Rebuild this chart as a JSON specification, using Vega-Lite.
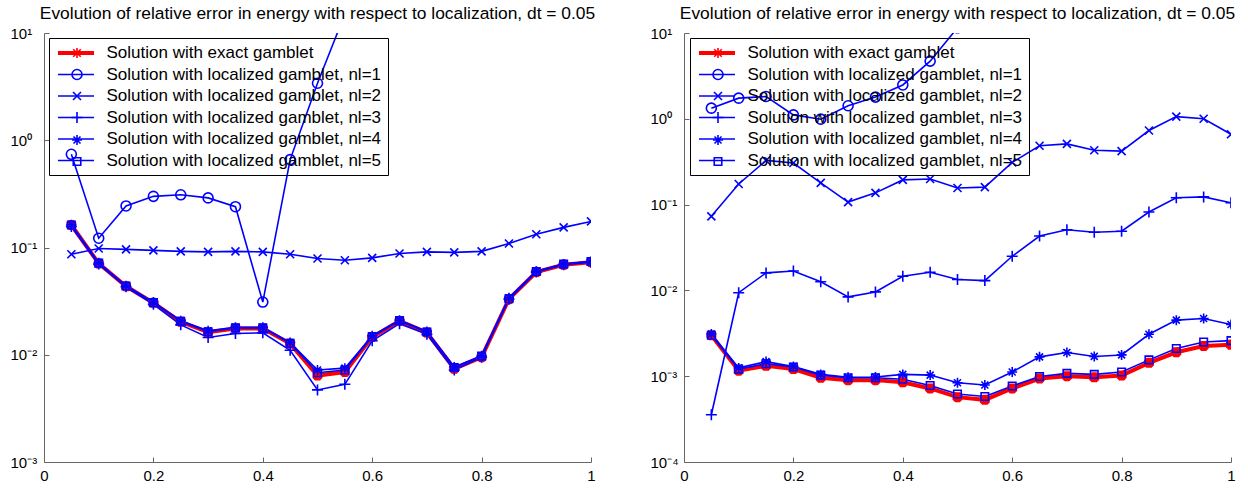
{
  "$schema": "https://vega.github.io/schema/vega-lite/v6.json",
  "padding": {"left": 10, "top": 4, "right": 0, "bottom": 0},
  "config": {
    "font": "Liberation Sans",
    "view": {"stroke": null},
    "title": {"fontSize": 17.4, "fontWeight": "normal", "font": "Liberation Sans", "color": "black", "offset": 4},
    "axis": {"domainColor": "#666", "tickColor": "#666", "domainWidth": 1, "tickWidth": 1, "grid": false, "labelFont": "Liberation Sans", "labelFontSize": 15, "labelColor": "black", "labelFlush": false, "labelOverlap": false, "title": null},
    "legend": {"orient": "none", "title": null, "labelFont": "Liberation Sans", "labelFontSize": 17, "labelColor": "black", "labelLimit": 500}
  },
  "data": {"values": [
    {"panel":"L","series":"exact","x":0.05,"y":0.162},{"panel":"L","series":"exact","x":0.1,"y":0.071},{"panel":"L","series":"exact","x":0.15,"y":0.0435},{"panel":"L","series":"exact","x":0.2,"y":0.0305},{"panel":"L","series":"exact","x":0.25,"y":0.0203},{"panel":"L","series":"exact","x":0.3,"y":0.0162},{"panel":"L","series":"exact","x":0.35,"y":0.0176},{"panel":"L","series":"exact","x":0.4,"y":0.0176},{"panel":"L","series":"exact","x":0.45,"y":0.0127},{"panel":"L","series":"exact","x":0.5,"y":0.0064},{"panel":"L","series":"exact","x":0.55,"y":0.0069},{"panel":"L","series":"exact","x":0.6,"y":0.0146},{"panel":"L","series":"exact","x":0.65,"y":0.0206},{"panel":"L","series":"exact","x":0.7,"y":0.0161},{"panel":"L","series":"exact","x":0.75,"y":0.0074},{"panel":"L","series":"exact","x":0.8,"y":0.0095},{"panel":"L","series":"exact","x":0.85,"y":0.033},{"panel":"L","series":"exact","x":0.9,"y":0.059},{"panel":"L","series":"exact","x":0.95,"y":0.069},{"panel":"L","series":"exact","x":1,"y":0.073},
    {"panel":"L","series":"nl=1","x":0.05,"y":0.74},{"panel":"L","series":"nl=1","x":0.1,"y":0.122},{"panel":"L","series":"nl=1","x":0.15,"y":0.244},{"panel":"L","series":"nl=1","x":0.2,"y":0.3},{"panel":"L","series":"nl=1","x":0.25,"y":0.31},{"panel":"L","series":"nl=1","x":0.3,"y":0.29},{"panel":"L","series":"nl=1","x":0.35,"y":0.24},{"panel":"L","series":"nl=1","x":0.4,"y":0.031},{"panel":"L","series":"nl=1","x":0.45,"y":0.66},{"panel":"L","series":"nl=1","x":0.5,"y":3.4},{"panel":"L","series":"nl=1","x":0.55,"y":15},
    {"panel":"L","series":"nl=2","x":0.05,"y":0.0865},{"panel":"L","series":"nl=2","x":0.1,"y":0.098},{"panel":"L","series":"nl=2","x":0.15,"y":0.096},{"panel":"L","series":"nl=2","x":0.2,"y":0.094},{"panel":"L","series":"nl=2","x":0.25,"y":0.092},{"panel":"L","series":"nl=2","x":0.3,"y":0.091},{"panel":"L","series":"nl=2","x":0.35,"y":0.092},{"panel":"L","series":"nl=2","x":0.4,"y":0.091},{"panel":"L","series":"nl=2","x":0.45,"y":0.0866},{"panel":"L","series":"nl=2","x":0.5,"y":0.079},{"panel":"L","series":"nl=2","x":0.55,"y":0.076},{"panel":"L","series":"nl=2","x":0.6,"y":0.08},{"panel":"L","series":"nl=2","x":0.65,"y":0.088},{"panel":"L","series":"nl=2","x":0.7,"y":0.091},{"panel":"L","series":"nl=2","x":0.75,"y":0.09},{"panel":"L","series":"nl=2","x":0.8,"y":0.092},{"panel":"L","series":"nl=2","x":0.85,"y":0.109},{"panel":"L","series":"nl=2","x":0.9,"y":0.133},{"panel":"L","series":"nl=2","x":0.95,"y":0.154},{"panel":"L","series":"nl=2","x":1,"y":0.175},
    {"panel":"L","series":"nl=3","x":0.05,"y":0.157},{"panel":"L","series":"nl=3","x":0.1,"y":0.07},{"panel":"L","series":"nl=3","x":0.15,"y":0.043},{"panel":"L","series":"nl=3","x":0.2,"y":0.0295},{"panel":"L","series":"nl=3","x":0.25,"y":0.019},{"panel":"L","series":"nl=3","x":0.3,"y":0.0145},{"panel":"L","series":"nl=3","x":0.35,"y":0.0158},{"panel":"L","series":"nl=3","x":0.4,"y":0.016},{"panel":"L","series":"nl=3","x":0.45,"y":0.011},{"panel":"L","series":"nl=3","x":0.5,"y":0.0047},{"panel":"L","series":"nl=3","x":0.55,"y":0.0053},{"panel":"L","series":"nl=3","x":0.6,"y":0.0135},{"panel":"L","series":"nl=3","x":0.65,"y":0.0195},{"panel":"L","series":"nl=3","x":0.7,"y":0.0155},{"panel":"L","series":"nl=3","x":0.75,"y":0.0072},{"panel":"L","series":"nl=3","x":0.8,"y":0.0095},{"panel":"L","series":"nl=3","x":0.85,"y":0.033},{"panel":"L","series":"nl=3","x":0.9,"y":0.059},{"panel":"L","series":"nl=3","x":0.95,"y":0.069},{"panel":"L","series":"nl=3","x":1,"y":0.073},
    {"panel":"L","series":"nl=4","x":0.05,"y":0.163},{"panel":"L","series":"nl=4","x":0.1,"y":0.072},{"panel":"L","series":"nl=4","x":0.15,"y":0.044},{"panel":"L","series":"nl=4","x":0.2,"y":0.031},{"panel":"L","series":"nl=4","x":0.25,"y":0.0208},{"panel":"L","series":"nl=4","x":0.3,"y":0.0167},{"panel":"L","series":"nl=4","x":0.35,"y":0.018},{"panel":"L","series":"nl=4","x":0.4,"y":0.018},{"panel":"L","series":"nl=4","x":0.45,"y":0.013},{"panel":"L","series":"nl=4","x":0.5,"y":0.0072},{"panel":"L","series":"nl=4","x":0.55,"y":0.0075},{"panel":"L","series":"nl=4","x":0.6,"y":0.015},{"panel":"L","series":"nl=4","x":0.65,"y":0.021},{"panel":"L","series":"nl=4","x":0.7,"y":0.0165},{"panel":"L","series":"nl=4","x":0.75,"y":0.0077},{"panel":"L","series":"nl=4","x":0.8,"y":0.0098},{"panel":"L","series":"nl=4","x":0.85,"y":0.034},{"panel":"L","series":"nl=4","x":0.9,"y":0.06},{"panel":"L","series":"nl=4","x":0.95,"y":0.07},{"panel":"L","series":"nl=4","x":1,"y":0.074},
    {"panel":"L","series":"nl=5","x":0.05,"y":0.162},{"panel":"L","series":"nl=5","x":0.1,"y":0.0715},{"panel":"L","series":"nl=5","x":0.15,"y":0.0437},{"panel":"L","series":"nl=5","x":0.2,"y":0.0306},{"panel":"L","series":"nl=5","x":0.25,"y":0.0205},{"panel":"L","series":"nl=5","x":0.3,"y":0.0164},{"panel":"L","series":"nl=5","x":0.35,"y":0.0178},{"panel":"L","series":"nl=5","x":0.4,"y":0.0178},{"panel":"L","series":"nl=5","x":0.45,"y":0.0128},{"panel":"L","series":"nl=5","x":0.5,"y":0.0068},{"panel":"L","series":"nl=5","x":0.55,"y":0.0072},{"panel":"L","series":"nl=5","x":0.6,"y":0.0148},{"panel":"L","series":"nl=5","x":0.65,"y":0.0208},{"panel":"L","series":"nl=5","x":0.7,"y":0.0163},{"panel":"L","series":"nl=5","x":0.75,"y":0.0076},{"panel":"L","series":"nl=5","x":0.8,"y":0.0097},{"panel":"L","series":"nl=5","x":0.85,"y":0.0333},{"panel":"L","series":"nl=5","x":0.9,"y":0.0597},{"panel":"L","series":"nl=5","x":0.95,"y":0.07},{"panel":"L","series":"nl=5","x":1,"y":0.074},
    {"panel":"R","series":"exact","x":0.05,"y":0.003},{"panel":"R","series":"exact","x":0.1,"y":0.00116},{"panel":"R","series":"exact","x":0.15,"y":0.00132},{"panel":"R","series":"exact","x":0.2,"y":0.00121},{"panel":"R","series":"exact","x":0.25,"y":0.00096},{"panel":"R","series":"exact","x":0.3,"y":0.0009},{"panel":"R","series":"exact","x":0.35,"y":0.0009},{"panel":"R","series":"exact","x":0.4,"y":0.00085},{"panel":"R","series":"exact","x":0.45,"y":0.00072},{"panel":"R","series":"exact","x":0.5,"y":0.00057},{"panel":"R","series":"exact","x":0.55,"y":0.00053},{"panel":"R","series":"exact","x":0.6,"y":0.00072},{"panel":"R","series":"exact","x":0.65,"y":0.00094},{"panel":"R","series":"exact","x":0.7,"y":0.001},{"panel":"R","series":"exact","x":0.75,"y":0.00097},{"panel":"R","series":"exact","x":0.8,"y":0.00102},{"panel":"R","series":"exact","x":0.85,"y":0.00143},{"panel":"R","series":"exact","x":0.9,"y":0.0019},{"panel":"R","series":"exact","x":0.95,"y":0.00225},{"panel":"R","series":"exact","x":1,"y":0.00232},
    {"panel":"R","series":"nl=1","x":0.05,"y":1.33},{"panel":"R","series":"nl=1","x":0.1,"y":1.74},{"panel":"R","series":"nl=1","x":0.15,"y":1.82},{"panel":"R","series":"nl=1","x":0.2,"y":1.11},{"panel":"R","series":"nl=1","x":0.25,"y":0.99},{"panel":"R","series":"nl=1","x":0.3,"y":1.42},{"panel":"R","series":"nl=1","x":0.35,"y":1.79},{"panel":"R","series":"nl=1","x":0.4,"y":2.48},{"panel":"R","series":"nl=1","x":0.45,"y":4.7},{"panel":"R","series":"nl=1","x":0.5,"y":11.5},
    {"panel":"R","series":"nl=2","x":0.05,"y":0.073},{"panel":"R","series":"nl=2","x":0.1,"y":0.174},{"panel":"R","series":"nl=2","x":0.15,"y":0.327},{"panel":"R","series":"nl=2","x":0.2,"y":0.305},{"panel":"R","series":"nl=2","x":0.25,"y":0.179},{"panel":"R","series":"nl=2","x":0.3,"y":0.107},{"panel":"R","series":"nl=2","x":0.35,"y":0.137},{"panel":"R","series":"nl=2","x":0.4,"y":0.194},{"panel":"R","series":"nl=2","x":0.45,"y":0.199},{"panel":"R","series":"nl=2","x":0.5,"y":0.156},{"panel":"R","series":"nl=2","x":0.55,"y":0.16},{"panel":"R","series":"nl=2","x":0.6,"y":0.31},{"panel":"R","series":"nl=2","x":0.65,"y":0.485},{"panel":"R","series":"nl=2","x":0.7,"y":0.51},{"panel":"R","series":"nl=2","x":0.75,"y":0.43},{"panel":"R","series":"nl=2","x":0.8,"y":0.42},{"panel":"R","series":"nl=2","x":0.85,"y":0.73},{"panel":"R","series":"nl=2","x":0.9,"y":1.06},{"panel":"R","series":"nl=2","x":0.95,"y":1.0},{"panel":"R","series":"nl=2","x":1,"y":0.66},
    {"panel":"R","series":"nl=3","x":0.05,"y":0.000355},{"panel":"R","series":"nl=3","x":0.1,"y":0.0094},{"panel":"R","series":"nl=3","x":0.15,"y":0.016},{"panel":"R","series":"nl=3","x":0.2,"y":0.0168},{"panel":"R","series":"nl=3","x":0.25,"y":0.0126},{"panel":"R","series":"nl=3","x":0.3,"y":0.0084},{"panel":"R","series":"nl=3","x":0.35,"y":0.0096},{"panel":"R","series":"nl=3","x":0.4,"y":0.0146},{"panel":"R","series":"nl=3","x":0.45,"y":0.0163},{"panel":"R","series":"nl=3","x":0.5,"y":0.0134},{"panel":"R","series":"nl=3","x":0.55,"y":0.013},{"panel":"R","series":"nl=3","x":0.6,"y":0.025},{"panel":"R","series":"nl=3","x":0.65,"y":0.043},{"panel":"R","series":"nl=3","x":0.7,"y":0.051},{"panel":"R","series":"nl=3","x":0.75,"y":0.0477},{"panel":"R","series":"nl=3","x":0.8,"y":0.049},{"panel":"R","series":"nl=3","x":0.85,"y":0.082},{"panel":"R","series":"nl=3","x":0.9,"y":0.12},{"panel":"R","series":"nl=3","x":0.95,"y":0.123},{"panel":"R","series":"nl=3","x":1,"y":0.105},
    {"panel":"R","series":"nl=4","x":0.05,"y":0.0031},{"panel":"R","series":"nl=4","x":0.1,"y":0.00125},{"panel":"R","series":"nl=4","x":0.15,"y":0.00148},{"panel":"R","series":"nl=4","x":0.2,"y":0.0013},{"panel":"R","series":"nl=4","x":0.25,"y":0.00105},{"panel":"R","series":"nl=4","x":0.3,"y":0.00097},{"panel":"R","series":"nl=4","x":0.35,"y":0.00098},{"panel":"R","series":"nl=4","x":0.4,"y":0.00105},{"panel":"R","series":"nl=4","x":0.45,"y":0.00103},{"panel":"R","series":"nl=4","x":0.5,"y":0.00084},{"panel":"R","series":"nl=4","x":0.55,"y":0.00079},{"panel":"R","series":"nl=4","x":0.6,"y":0.00112},{"panel":"R","series":"nl=4","x":0.65,"y":0.00168},{"panel":"R","series":"nl=4","x":0.7,"y":0.00189},{"panel":"R","series":"nl=4","x":0.75,"y":0.0017},{"panel":"R","series":"nl=4","x":0.8,"y":0.00177},{"panel":"R","series":"nl=4","x":0.85,"y":0.00308},{"panel":"R","series":"nl=4","x":0.9,"y":0.0045},{"panel":"R","series":"nl=4","x":0.95,"y":0.0047},{"panel":"R","series":"nl=4","x":1,"y":0.004},
    {"panel":"R","series":"nl=5","x":0.05,"y":0.003},{"panel":"R","series":"nl=5","x":0.1,"y":0.00121},{"panel":"R","series":"nl=5","x":0.15,"y":0.0014},{"panel":"R","series":"nl=5","x":0.2,"y":0.00128},{"panel":"R","series":"nl=5","x":0.25,"y":0.00103},{"panel":"R","series":"nl=5","x":0.3,"y":0.00096},{"panel":"R","series":"nl=5","x":0.35,"y":0.00096},{"panel":"R","series":"nl=5","x":0.4,"y":0.00092},{"panel":"R","series":"nl=5","x":0.45,"y":0.00078},{"panel":"R","series":"nl=5","x":0.5,"y":0.00062},{"panel":"R","series":"nl=5","x":0.55,"y":0.00058},{"panel":"R","series":"nl=5","x":0.6,"y":0.00077},{"panel":"R","series":"nl=5","x":0.65,"y":0.00099},{"panel":"R","series":"nl=5","x":0.7,"y":0.00108},{"panel":"R","series":"nl=5","x":0.75,"y":0.00105},{"panel":"R","series":"nl=5","x":0.8,"y":0.00112},{"panel":"R","series":"nl=5","x":0.85,"y":0.00155},{"panel":"R","series":"nl=5","x":0.9,"y":0.0021},{"panel":"R","series":"nl=5","x":0.95,"y":0.0025},{"panel":"R","series":"nl=5","x":1,"y":0.0026}
  ]},
  "spacing": 54,
  "resolve": {
    "scale": {"x": "independent", "y": "independent", "stroke": "independent", "color": "independent", "shape": "independent", "strokeWidth": "independent"},
    "legend": {"stroke": "independent", "color": "independent", "shape": "independent", "strokeWidth": "independent"}
  },
  "hconcat": [
    {
      "width": 547, "height": 429,
      "title": "Evolution of relative error in energy with respect to localization, dt = 0.05",
      "transform": [{"filter": "datum.panel == 'L'"}],
      "encoding": {
        "x": {"field": "x", "type": "quantitative", "scale": {"domain": [0, 1], "nice": false, "zero": false}, "axis": {"values": [0, 0.2, 0.4, 0.6, 0.8, 1], "format": "~g", "tickSize": -5, "labelPadding": 11}},
        "y": {"field": "y", "type": "quantitative", "scale": {"type": "log", "domain": [0.001, 10], "nice": false}, "axis": {"values": [0.001, 0.01, 0.1, 1, 10], "tickSize": -5, "labelAlign": "left", "labelPadding": 39, "labelExpr": "'10' + ['⁻⁴','⁻³','⁻²','⁻¹','⁰','¹'][round(log(datum.value)/LN10)+4]"}}
      },
      "layer": [
        {
          "mark": {"type": "line", "clip": true},
          "encoding": {
            "stroke": {"field": "series", "type": "nominal", "scale": {"domain": ["exact", "nl=1", "nl=2", "nl=3", "nl=4", "nl=5"], "range": ["#ff0000", "#0000ff", "#0000ff", "#0000ff", "#0000ff", "#0000ff"]},
              "legend": {"legendX": 5, "legendY": 5, "padding": 6.5, "rowPadding": 3.5, "strokeColor": "black", "symbolType": "M-3.6,0L3.6,0", "symbolSize": 100, "symbolOffset": 12, "labelOffset": 22,
                "labelExpr": "datum.label == 'exact' ? 'Solution with exact gamblet' : 'Solution with localized gamblet, ' + datum.label"}},
            "strokeWidth": {"field": "series", "type": "nominal", "scale": {"type": "ordinal", "domain": ["exact", "nl=1", "nl=2", "nl=3", "nl=4", "nl=5"], "range": [4, 1.6, 1.6, 1.6, 1.6, 1.6]}, "legend": null}
          }
        },
        {
          "mark": {"type": "point", "clip": true, "filled": false, "size": 100, "opacity": 1},
          "encoding": {
            "color": {"field": "series", "type": "nominal", "scale": {"domain": ["exact", "nl=1", "nl=2", "nl=3", "nl=4", "nl=5", "none"], "range": ["#ff0000", "#0000ff", "#0000ff", "#0000ff", "#0000ff", "#0000ff", "#000000"]},
              "legend": {"values": ["exact", "nl=1", "nl=2", "nl=3", "nl=4", "nl=5"], "legendX": 5, "legendY": 5, "padding": 6.5, "rowPadding": 3.5, "symbolSize": 100, "symbolStrokeWidth": 1.6, "symbolOffset": 13, "labelExpr": "''"}},
            "shape": {"field": "series", "type": "nominal", "scale": {"domain": ["exact", "nl=1", "nl=2", "nl=3", "nl=4", "nl=5", "none"], "range": ["M-1,0L1,0M0,-1L0,1M-0.75,-0.75L0.75,0.75M-0.75,0.75L0.75,-0.75", "M-1,0A1,1 0 1,0 1,0A1,1 0 1,0 -1,0", "M-0.8,-0.8L0.8,0.8M-0.8,0.8L0.8,-0.8", "M-1.1,0L1.1,0M0,-1.1L0,1.1", "M-1,0L1,0M0,-1L0,1M-0.7,-0.7L0.7,0.7M-0.7,0.7L0.7,-0.7", "M-0.75,-0.75L0.75,-0.75L0.75,0.75L-0.75,0.75Z", "circle"]}, "legend": null},
            "strokeWidth": {"field": "series", "type": "nominal", "scale": {"type": "ordinal", "domain": ["exact", "nl=1", "nl=2", "nl=3", "nl=4", "nl=5"], "range": [4, 1.6, 1.6, 1.6, 1.6, 1.6]}, "legend": null}
          }
        }
      ]
    },
    {
      "width": 547, "height": 429,
      "title": "Evolution of relative error in energy with respect to localization, dt = 0.05",
      "transform": [{"filter": "datum.panel == 'R'"}],
      "encoding": {
        "x": {"field": "x", "type": "quantitative", "scale": {"domain": [0, 1], "nice": false, "zero": false}, "axis": {"values": [0, 0.2, 0.4, 0.6, 0.8, 1], "format": "~g", "tickSize": -5, "labelPadding": 11}},
        "y": {"field": "y", "type": "quantitative", "scale": {"type": "log", "domain": [0.0001, 10], "nice": false}, "axis": {"values": [0.0001, 0.001, 0.01, 0.1, 1, 10], "tickSize": -5, "labelAlign": "left", "labelPadding": 39, "labelExpr": "'10' + ['⁻⁴','⁻³','⁻²','⁻¹','⁰','¹'][round(log(datum.value)/LN10)+4]"}}
      },
      "layer": [
        {
          "mark": {"type": "line", "clip": true},
          "encoding": {
            "stroke": {"field": "series", "type": "nominal", "scale": {"domain": ["exact", "nl=1", "nl=2", "nl=3", "nl=4", "nl=5"], "range": ["#ff0000", "#0000ff", "#0000ff", "#0000ff", "#0000ff", "#0000ff"]},
              "legend": {"legendX": 6, "legendY": 5, "padding": 6.5, "rowPadding": 3.5, "strokeColor": "black", "symbolType": "M-3.6,0L3.6,0", "symbolSize": 100, "symbolOffset": 12, "labelOffset": 22,
                "labelExpr": "datum.label == 'exact' ? 'Solution with exact gamblet' : 'Solution with localized gamblet, ' + datum.label"}},
            "strokeWidth": {"field": "series", "type": "nominal", "scale": {"type": "ordinal", "domain": ["exact", "nl=1", "nl=2", "nl=3", "nl=4", "nl=5"], "range": [4, 1.6, 1.6, 1.6, 1.6, 1.6]}, "legend": null}
          }
        },
        {
          "mark": {"type": "point", "clip": true, "filled": false, "size": 100, "opacity": 1},
          "encoding": {
            "color": {"field": "series", "type": "nominal", "scale": {"domain": ["exact", "nl=1", "nl=2", "nl=3", "nl=4", "nl=5", "none"], "range": ["#ff0000", "#0000ff", "#0000ff", "#0000ff", "#0000ff", "#0000ff", "#000000"]},
              "legend": {"values": ["exact", "nl=1", "nl=2", "nl=3", "nl=4", "nl=5"], "legendX": 6, "legendY": 5, "padding": 6.5, "rowPadding": 3.5, "symbolSize": 100, "symbolStrokeWidth": 1.6, "symbolOffset": 13, "labelExpr": "''"}},
            "shape": {"field": "series", "type": "nominal", "scale": {"domain": ["exact", "nl=1", "nl=2", "nl=3", "nl=4", "nl=5", "none"], "range": ["M-1,0L1,0M0,-1L0,1M-0.75,-0.75L0.75,0.75M-0.75,0.75L0.75,-0.75", "M-1,0A1,1 0 1,0 1,0A1,1 0 1,0 -1,0", "M-0.8,-0.8L0.8,0.8M-0.8,0.8L0.8,-0.8", "M-1.1,0L1.1,0M0,-1.1L0,1.1", "M-1,0L1,0M0,-1L0,1M-0.7,-0.7L0.7,0.7M-0.7,0.7L0.7,-0.7", "M-0.75,-0.75L0.75,-0.75L0.75,0.75L-0.75,0.75Z", "circle"]}, "legend": null},
            "strokeWidth": {"field": "series", "type": "nominal", "scale": {"type": "ordinal", "domain": ["exact", "nl=1", "nl=2", "nl=3", "nl=4", "nl=5"], "range": [4, 1.6, 1.6, 1.6, 1.6, 1.6]}, "legend": null}
          }
        }
      ]
    }
  ]
}
